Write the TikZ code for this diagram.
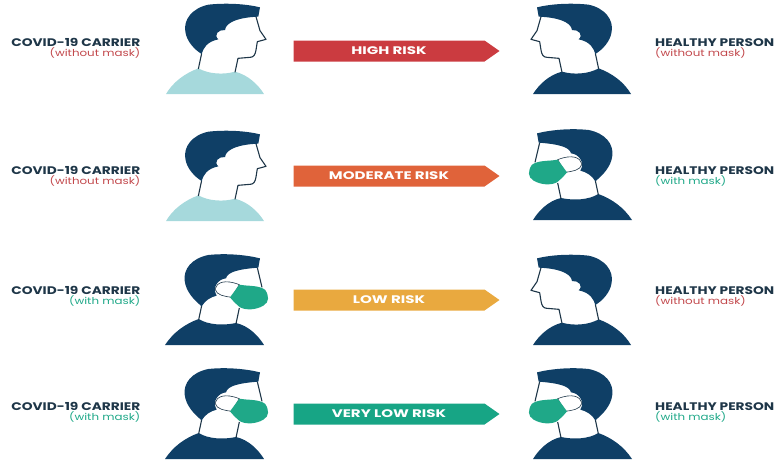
\documentclass[tikz,border=0pt]{standalone}
\usepackage{fontspec}
\setmainfont[FakeStretch=1.25]{Poppins}
\newfontfamily\arrowfont[FakeStretch=1.37]{Poppins}
\usetikzlibrary{shapes.symbols,positioning}
\definecolor{masknavy}{HTML}{0F3F66}
\definecolor{maskgreen}{HTML}{1FA888}
\definecolor{shirtteal}{HTML}{A6D9DC}
\definecolor{labeldark}{HTML}{1E3648}
\definecolor{labelred}{HTML}{C2484C}
\definecolor{riskred}{HTML}{CB3B40}
\definecolor{riskorange}{HTML}{E0633A}
\definecolor{riskyellow}{HTML}{E9A93F}
\definecolor{riskgreen}{HTML}{17A585}
\newcommand{\titlesize}{\fontsize{11}{9}\selectfont\bfseries}
\newcommand{\subsize}{\fontsize{9.5}{9}\selectfont}
\tikzset{
  outline/.style={draw=labeldark,line width=1.1pt,line join=round},
  riskarrow/.style={shape=signal,signal to=east,signal from=nowhere,signal pointer angle=70,
    minimum width=206pt,minimum height=21pt,inner sep=0pt,text=white,
    font=\arrowfont\fontsize{11}{12}\selectfont\bfseries},
  carrierlabel/.style={align=right,anchor=east,inner sep=0pt},
  personlabel/.style={align=left,anchor=west,inner sep=0pt},
  bareface/.pic={
    \begin{scope}[scale=1/3,shift={(0,-282)}]
      \fill[#1] (48,282) .. controls (70,245) and (105,220) .. (145,205)
        .. controls (175,222) and (220,225) .. (255,215)
        .. controls (295,225) and (325,255) .. (342,282) -- cycle;
      \draw[outline] (155,160) -- (145,207);
      \draw[outline] (318,50) -- (330,92) -- (348,118) -- (322,125) -- (318,150)
        .. controls (316,165) and (310,172) .. (300,172) -- (264,175) -- (255,217);
      \fill[masknavy] (330,22) .. controls (290,12) and (230,8) .. (175,14)
        .. controls (125,25) and (100,60) .. (106,95)
        .. controls (110,125) and (135,150) .. (155,162)
        .. controls (160,145) and (170,125) .. (205,118)
        .. controls (190,105) and (205,88) .. (225,90)
        .. controls (228,65) and (270,52) .. (325,50) -- cycle;
    \end{scope}
  },
  maskface/.pic={
    \begin{scope}[scale=1/3,shift={(0,-298)}]
      \fill[masknavy] (45,298) .. controls (70,260) and (105,235) .. (146,220)
        .. controls (175,238) and (220,240) .. (258,232)
        .. controls (295,240) and (325,270) .. (342,298) -- cycle;
      \draw[outline] (155,180) -- (146,222);
      \draw[outline] (322,66) -- (336,125);
      \draw[outline] (268,187) -- (258,234);
      \fill[masknavy] (330,38) .. controls (290,28) and (230,22) .. (175,28)
        .. controls (125,38) and (100,70) .. (104,105)
        .. controls (108,140) and (135,165) .. (155,182)
        .. controls (165,165) and (180,155) .. (200,150)
        .. controls (185,125) and (205,100) .. (228,98)
        .. controls (232,78) and (270,70) .. (325,66) -- cycle;
      \draw[outline,line width=.6pt,fill=white] (195,130) .. controls (200,110) and (225,100) .. (268,117)
        -- (245,155) .. controls (225,152) and (200,150) .. (195,130) -- cycle;
      \fill[maskgreen] (268,117) .. controls (295,122) and (325,118) .. (345,132)
        .. controls (358,150) and (358,170) .. (340,180)
        .. controls (320,192) and (290,195) .. (270,185)
        .. controls (258,175) and (248,165) .. (240,155) -- cycle;
    \end{scope}
  }
}
\begin{document}
\begin{tikzpicture}[x=1pt,y=-1pt]
  \useasboundingbox (0,0) rectangle (776,461);
  % one row per pair of figures
  \foreach \rowname/\arrowy/\texty/\risktext/\riskcol/\carriersub/\carriercol/\personsub/\personcol in {
    high/51/43/HIGH RISK/riskred/without mask/labelred/without mask/labelred,
    moderate/176/171/MODERATE RISK/riskorange/without mask/labelred/with mask/maskgreen,
    low/300/291/LOW RISK/riskyellow/with mask/maskgreen/without mask/labelred,
    verylow/414/407/VERY LOW RISK/riskgreen/with mask/maskgreen/with mask/maskgreen}{
    \node[riskarrow,fill=\riskcol] (arrow\rowname) at (389,\arrowy) {\risktext};
    \node[carrierlabel] (carrier\rowname) at (140.5,\texty+5.5) {\textcolor{labeldark}{\titlesize COVID-19 CARRIER}\\[-1.5pt]\textcolor{\carriercol}{\subsize (\carriersub)}};
    \node[personlabel] (person\rowname) at (655,\texty+5.5) {\textcolor{labeldark}{\titlesize HEALTHY PERSON}\\[-1.5pt]\textcolor{\personcol}{\subsize (\personsub)}};
  }
  \pic at (150,94) {bareface={shirtteal}};
  \pic at (150,221) {bareface={shirtteal}};
  \pic at (150,345) {maskface};
  \pic at (150,459) {maskface};
  \pic[xscale=-1] at (647,94) {bareface={masknavy}};
  \pic[xscale=-1] at (647,220) {maskface};
  \pic[xscale=-1] at (647,345) {bareface={masknavy}};
  \pic[xscale=-1] at (647,459) {maskface};
\end{tikzpicture}
\end{document}
